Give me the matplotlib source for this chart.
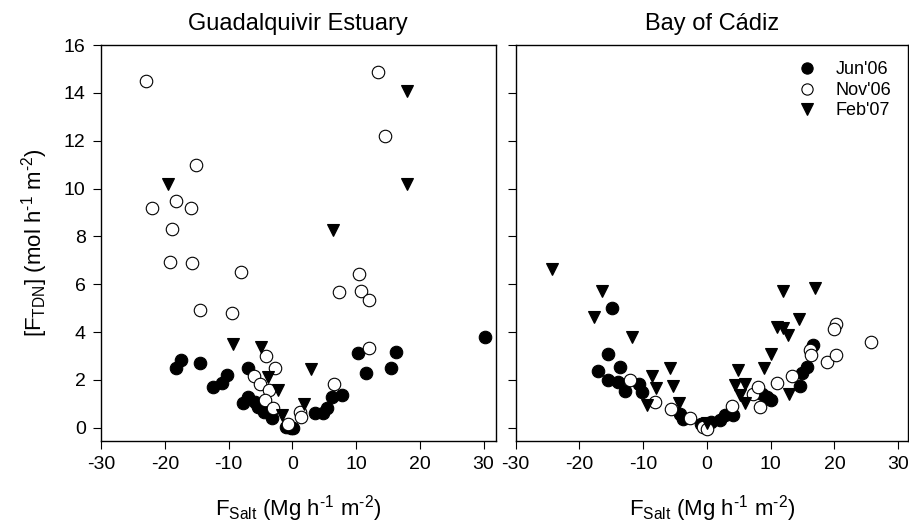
import numpy as np
import matplotlib
matplotlib.use("Agg")
import matplotlib.pyplot as plt

plt.rcParams['font.family'] = ['Liberation Sans', 'DejaVu Sans']
plt.rcParams['mathtext.fontset'] = 'custom'
plt.rcParams['mathtext.rm'] = 'Liberation Sans'
plt.rcParams['mathtext.it'] = 'Liberation Sans'
plt.rcParams['axes.unicode_minus'] = False

# Guadalquivir Estuary
gq_jun_x = [-18.3, -17.5, -14.5, -12.4, -11.0, -10.3, -7.0, -7.8, -6.9, -5.8, -5.4, -4.5, -3.2,
            -1.0, -0.2, 0.07, 3.6, 4.8, 5.4, 6.3, 7.75, 10.3, 11.6, 15.5, 16.3, 30.2]
gq_jun_y = [2.48, 2.83, 2.72, 1.72, 1.88, 2.19, 2.48, 1.05, 1.3, 1.09, 0.88, 0.67, 0.42,
            0.05, 0.0, 0.0, 0.6, 0.63, 0.84, 1.27, 1.36, 3.14, 2.29, 2.51, 3.17, 3.81]
gq_nov_x = [-22.9, -15.1, -22.0, -18.2, -15.9, -18.9, -19.2, -15.8, -8.1, -14.4, -9.4, -4.1,
            -6.05, -5.0, -2.7, -3.6, -4.3, -3.1, -0.6, 1.2, 1.37, 6.55, 10.5, 7.3, 10.7, 12.0,
            12.0, 13.4, 14.55]
gq_nov_y = [14.49, 11.0, 9.18, 9.47, 9.2, 8.3, 6.92, 6.88, 6.5, 4.92, 4.8, 3.01,
            2.16, 1.83, 2.5, 1.58, 1.16, 0.84, 0.15, 0.67, 0.46, 1.82, 6.43, 5.69, 5.72, 5.34,
            3.33, 14.88, 12.2]
gq_feb_x = [-19.5, 18.0, 18.0, 6.44, -9.24, -4.85, -3.86, -2.18, -1.65, 1.84, 2.9]
gq_feb_y = [10.18, 14.06, 10.2, 8.27, 3.49, 3.36, 2.13, 1.6, 0.53, 0.99, 2.47]

# Bay of Cadiz
bc_jun_x = [-14.9, -15.6, -13.6, -17.1, -15.6, -13.9, -12.8, -10.6, -10.2, -4.2, -3.7, -0.94,
            -0.4, 0.7, 2.0, 2.8, 4.1, 8.6, 9.4, 10.0, 14.6, 14.9, 15.7, 16.7]
bc_jun_y = [5.02, 3.07, 2.53, 2.37, 2.02, 1.93, 1.56, 1.83, 1.51, 0.57, 0.39, 0.18,
            0.08, 0.25, 0.32, 0.53, 0.53, 1.41, 1.3, 1.16, 1.76, 2.28, 2.55, 3.46]
bc_nov_x = [-12.0, -8.1, -5.7, -2.6, -0.6, 0.0, 4.0, 7.3, 8.05, 8.3, 11.0, 13.3, 16.2, 16.3,
            18.9, 20.2, 19.9, 20.3, 25.7]
bc_nov_y = [2.02, 1.1, 0.8, 0.42, 0.02, -0.05, 0.91, 1.4, 1.69, 0.88, 1.86, 2.16, 3.25, 3.04,
            2.76, 4.35, 4.14, 3.03, 3.59]
bc_feb_x = [-24.3, -16.5, -17.7, -11.8, -5.75, -8.7, -8.0, -5.3, -9.46, -4.4, 11.9, 16.9, 14.5,
            11.0, 12.0, 12.7, 10.0, 4.9, 9.0, 4.4, 6.0, 5.2, 12.8, 6.0, 0.0]
bc_feb_y = [6.63, 5.73, 4.62, 3.81, 2.5, 2.18, 1.67, 1.74, 0.95, 1.02, 5.73, 5.85, 4.53,
            4.23, 4.16, 3.89, 3.07, 2.4, 2.49, 1.79, 1.83, 1.37, 1.41, 1.03, 0.2]

labels = ["Jun'06", "Nov'06", "Feb'07"]
titles = ["Guadalquivir Estuary", "Bay of Cádiz"]
xticks = [-30, -20, -10, 0, 10, 20, 30]
yticks = [0, 2, 4, 6, 8, 10, 12, 14, 16]

fig = plt.figure(figsize=(9.09, 5.23), dpi=100)
W, H = 909.0, 523.0
ax1 = fig.add_axes([101 / W, (H - 441) / H, 394.7 / W, 396 / H])
ax2 = fig.add_axes([515.75 / W, (H - 441) / H, 392 / W, 396 / H])

panels = [
    (ax1, (gq_jun_x, gq_jun_y), (gq_nov_x, gq_nov_y), (gq_feb_x, gq_feb_y), 31.9),
    (ax2, (bc_jun_x, bc_jun_y), (bc_nov_x, bc_nov_y), (bc_feb_x, bc_feb_y), 31.5),
]

ms = 9
for i, (ax, jun, nov, feb, xmax) in enumerate(panels):
    ax.plot(jun[0], jun[1], 'o', ms=ms, mfc='black', mec='black', mew=0.8,
            ls='none', label=labels[0])
    ax.plot(nov[0], nov[1], 'o', ms=ms, mfc='white', mec='black', mew=0.8,
            ls='none', label=labels[1])
    ax.plot(feb[0], feb[1], 'v', ms=ms, mfc='black', mec='black', mew=0.8,
            ls='none', label=labels[2])
    ax.set_xlim(-30, xmax)
    ax.set_ylim(-0.55, 16)
    ax.set_xticks(xticks)
    ax.set_yticks(yticks)
    ax.tick_params(direction='out', length=6, width=0.8, labelsize=14, pad=5,
                   top=False, right=False)
    for sp in ax.spines.values():
        sp.set_linewidth(1.0)
    ax.set_title(titles[i], fontsize=17, pad=11)
    ax.set_xlabel(r'F$_{\mathrm{Salt}}$ (Mg h$^{\text{-1}}$ m$^{\text{-2}}$)',
                  fontsize=16, labelpad=14)

ax1.set_ylabel(r'[F$_{\mathrm{TDN}}$] (mol h$^{\text{-1}}$ m$^{\text{-2}}$)',
               fontsize=16, labelpad=10)
ax2.tick_params(axis='y', labelleft=False)

ax2.legend(loc='upper right', frameon=False, fontsize=13, handletextpad=0.6,
           labelspacing=0.2, borderaxespad=0.5, markerscale=0.9)

fig.savefig('out.png', dpi=100)
